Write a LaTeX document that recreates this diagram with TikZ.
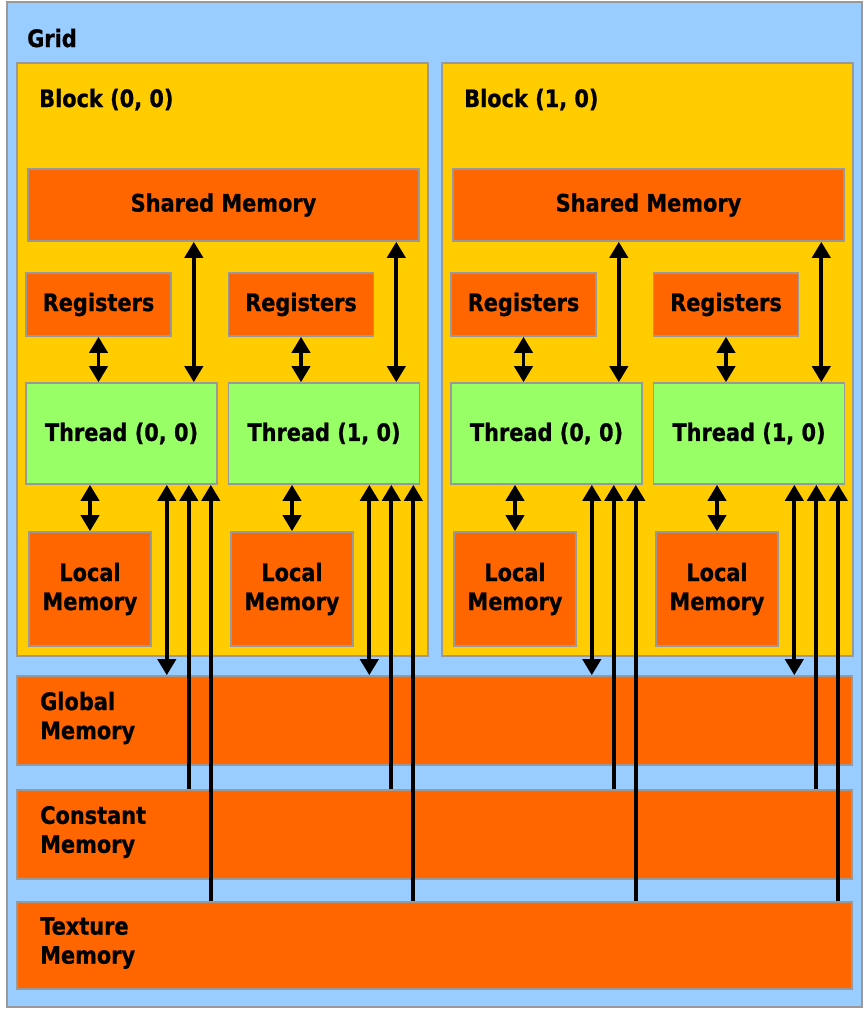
\documentclass[tikz,border=0pt]{standalone}
\usepackage{fontspec}
\setmainfont{DejaVu Sans}[FakeStretch=0.87, BoldFeatures={FakeBold=0.8}]
\usetikzlibrary{arrows.meta}
\usepackage{xcolor}
\definecolor{gridblue}{HTML}{99CCFF}
\definecolor{blockgold}{HTML}{FFCC00}
\definecolor{memorange}{HTML}{FF6600}
\definecolor{threadgreen}{HTML}{99FF66}
\definecolor{edgegray}{HTML}{999999}
\tikzset{
  box/.style={rectangle, draw=edgegray, line width=1.6pt, inner sep=0pt,
    align=center, font=\bfseries\fontsize{24}{29}\selectfont},
  gridbox/.style={box, fill=gridblue},
  blockbox/.style={box, fill=blockgold},
  mem/.style={box, fill=memorange},
  thr/.style={box, fill=threadgreen},
  lbl/.style={anchor=base west, inner sep=0pt, font=\bfseries\fontsize{24}{29}\selectfont},
  link/.style={line width=3.8pt, -{Triangle[length=16pt,width=18pt]}},
  dlink/.style={line width=3.8pt, {Triangle[length=16pt,width=18pt]}-{Triangle[length=16pt,width=18pt]}}
}
\begin{document}
\begin{tikzpicture}[x=1pt,y=-1pt]
\useasboundingbox (0,0) rectangle (867,1012);
% grid and blocks
\node[gridbox, minimum width=855pt, minimum height=1005pt] (grid) at (434.5,504.5) {};
\node[lbl] (gridlbl) at (27,47) {Grid};
\node[blockbox, minimum width=411pt, minimum height=593pt] (blk0) at (222.5,359.5) {};
\node[blockbox, minimum width=411pt, minimum height=593pt] (blk1) at (647.5,359.5) {};
\node[lbl] (blk0lbl) at (39,107) {Block (0, 0)};
\node[lbl] (blk1lbl) at (464,107) {Block (1, 0)};
% shared memory and registers
\node[mem, minimum width=391pt, minimum height=72pt] (sh0) at (223.5,205) {Shared Memory};
\node[mem, minimum width=391pt, minimum height=72pt] (sh1) at (648.5,205) {Shared Memory};
\node[mem, minimum width=145pt, minimum height=63pt] (reg00) at (98.5,304.5) {Registers};
\node[mem, minimum width=145pt, minimum height=63pt] (reg01) at (301,304.5) {Registers};
\node[mem, minimum width=145pt, minimum height=63pt] (reg10) at (523.5,304.5) {Registers};
\node[mem, minimum width=145pt, minimum height=63pt] (reg11) at (726,304.5) {Registers};
% threads
\node[thr, minimum width=191pt, minimum height=101pt] (th00) at (121.5,433.5) {Thread (0, 0)};
\node[thr, minimum width=191pt, minimum height=101pt] (th01) at (324,433.5) {Thread (1, 0)};
\node[thr, minimum width=191pt, minimum height=101pt] (th10) at (546.5,433.5) {Thread (0, 0)};
\node[thr, minimum width=191pt, minimum height=101pt] (th11) at (749,433.5) {Thread (1, 0)};
% local memory
\node[mem, minimum width=122pt, minimum height=114pt] (loc00) at (90,589) {Local\\Memory};
\node[mem, minimum width=122pt, minimum height=114pt] (loc01) at (292,589) {Local\\Memory};
\node[mem, minimum width=122pt, minimum height=114pt] (loc10) at (515,589) {Local\\Memory};
\node[mem, minimum width=122pt, minimum height=114pt] (loc11) at (717,589) {Local\\Memory};
% device memories
\node[mem, minimum width=835pt, minimum height=89pt] (glob) at (434.5,720.5) {};
\node[mem, minimum width=835pt, minimum height=89pt] (const) at (434.5,834.5) {};
\node[mem, minimum width=835pt, minimum height=87pt] (tex) at (434.5,945.5) {};
\node[lbl, anchor=west, align=left] (globlbl) at (40,718) {Global\\Memory};
\node[lbl, anchor=west, align=left] (constlbl) at (40,832) {Constant\\Memory};
\node[lbl, anchor=west, align=left] (texlbl) at (40,943) {Texture\\Memory};
% block 0, thread (0,0)
\draw[dlink] (reg00.south) -- (reg00.south |- th00.north);
\draw[dlink] ([xshift=-24pt]th00.north east) -- ([xshift=-24pt]th00.north east |- sh0.south);
\draw[dlink] (loc00.north |- th00.south) -- (loc00.north);
\draw[dlink] ([xshift=-51pt]th00.south east) -- ([xshift=-51pt]th00.south east |- glob.north);
\draw[link] ([xshift=-29pt]th00.south east |- const.north) -- ([xshift=-29pt]th00.south east);
\draw[link] ([xshift=-7pt]th00.south east |- tex.north) -- ([xshift=-7pt]th00.south east);
% block 0, thread (1,0)
\draw[dlink] (reg01.south) -- (reg01.south |- th01.north);
\draw[dlink] ([xshift=-24pt]th01.north east) -- ([xshift=-24pt]th01.north east |- sh0.south);
\draw[dlink] (loc01.north |- th01.south) -- (loc01.north);
\draw[dlink] ([xshift=-51pt]th01.south east) -- ([xshift=-51pt]th01.south east |- glob.north);
\draw[link] ([xshift=-29pt]th01.south east |- const.north) -- ([xshift=-29pt]th01.south east);
\draw[link] ([xshift=-7pt]th01.south east |- tex.north) -- ([xshift=-7pt]th01.south east);
% block 1, thread (0,0)
\draw[dlink] (reg10.south) -- (reg10.south |- th10.north);
\draw[dlink] ([xshift=-24pt]th10.north east) -- ([xshift=-24pt]th10.north east |- sh1.south);
\draw[dlink] (loc10.north |- th10.south) -- (loc10.north);
\draw[dlink] ([xshift=-51pt]th10.south east) -- ([xshift=-51pt]th10.south east |- glob.north);
\draw[link] ([xshift=-29pt]th10.south east |- const.north) -- ([xshift=-29pt]th10.south east);
\draw[link] ([xshift=-7pt]th10.south east |- tex.north) -- ([xshift=-7pt]th10.south east);
% block 1, thread (1,0)
\draw[dlink] (reg11.south) -- (reg11.south |- th11.north);
\draw[dlink] ([xshift=-24pt]th11.north east) -- ([xshift=-24pt]th11.north east |- sh1.south);
\draw[dlink] (loc11.north |- th11.south) -- (loc11.north);
\draw[dlink] ([xshift=-51pt]th11.south east) -- ([xshift=-51pt]th11.south east |- glob.north);
\draw[link] ([xshift=-29pt]th11.south east |- const.north) -- ([xshift=-29pt]th11.south east);
\draw[link] ([xshift=-7pt]th11.south east |- tex.north) -- ([xshift=-7pt]th11.south east);
\end{tikzpicture}
\end{document}
